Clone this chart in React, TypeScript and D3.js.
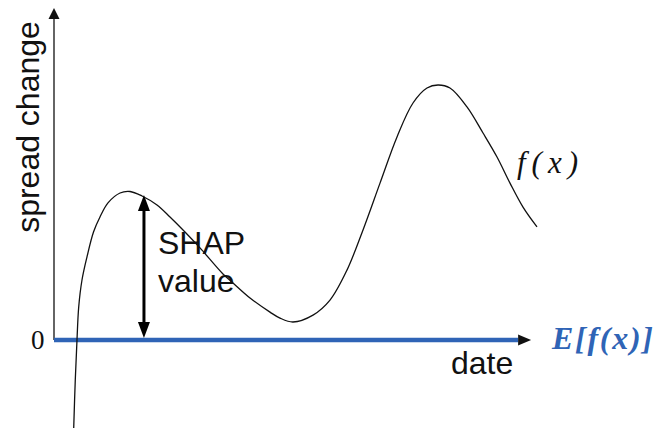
import React from 'react'
import * as d3 from 'd3'

// f(x): spread change over date
const dates = [4.14, 4.47, 4.83, 5.19, 5.88, 6.93, 8.3, 9.66, 11.34, 13.87, 15.97, 18.49, 21.64, 24.37, 27.52, 30.67, 35.5, 37.61, 41.18, 45.38, 47.48, 50.21, 54.41, 57.98, 61.55, 64.92, 68.49, 72.06, 75.42, 78.36, 80.67, 83.19, 86.76, 90.13, 93.07, 95.8, 98.53, 101.47]
const spread = [-29.3, -13.3, 0, 11, 20, 27.7, 36, 41, 45.7, 49, 49.5, 48, 45, 41, 36, 30.7, 22, 19, 14, 9.3, 7.3, 6, 8.3, 13.3, 23.3, 36.7, 52.3, 67.7, 79, 84, 85, 84, 77.7, 69, 61, 52.3, 44.3, 37.7]

// the SHAP value is shown at this date, from E[f(x)] up to f(x)
const shapDate = 18.9
const shapValue = 48.3

const yLabel = 'spread change'
const xLabel = 'date'
const zeroLabel = '0'
const curveLabel = 'f(x)'
const baseLabel = 'E[f(x)]'
const shapLabel = ['SHAP', 'value']

const width = 670
const height = 431
const blue = '#2f64b6'

const App = () => {
  const x = d3.scaleLinear().domain([0, 100]).range([54, 530])
  const y = d3.scaleLinear().domain([0, 100]).range([340, 40])

  const points = dates.map((d, i) => [d, spread[i]])
  const line = d3.line()
    .x(d => x(d[0]))
    .y(d => y(d[1]))
    .curve(d3.curveCatmullRom.alpha(0.5))

  const x0 = x(0)
  const y0 = y(0)
  const yTop = y(110)
  const xEnd = x(97.5)
  const sx = x(shapDate)
  const sTop = y(shapValue)

  return (
    <svg
      width={width}
      height={height}
      viewBox={`0 0 ${width} ${height}`}
      style={{ position: 'absolute', left: 0, top: 0, background: '#fff' }}
    >
      {/* y axis */}
      <line x1={x0} x2={x0} y1={y0} y2={yTop + 8} stroke='#111' strokeWidth='1.3' />
      <path d={`M${x0},${yTop - 2}l-5.5,11h11z`} fill='#111' />

      {/* E[f(x)] baseline, doubles as x axis */}
      <line x1={x0} x2={xEnd} y1={y0} y2={y0} stroke={blue} strokeWidth='4.5' />
      <path d={`M${xEnd + 13},${y0}l-13,-5.5v11z`} fill='#111' />

      {/* f(x) */}
      <path d={line(points)} fill='none' stroke='#111' strokeWidth='1.3' />

      {/* SHAP value arrow */}
      <line x1={sx} x2={sx} y1={sTop + 14} y2={y0 - 16} stroke='#000' strokeWidth='3' />
      <path d={`M${sx},${sTop}l-6,16h12z`} fill='#000' />
      <path d={`M${sx},${y0 - 2}l-6,-16h12z`} fill='#000' />

      <g fontFamily='"Liberation Sans", Arial, sans-serif' fontSize='32' fill='#111'>
        <text transform='translate(39,127) rotate(-90)' textAnchor='middle'>{yLabel}</text>
        <text x={451} y={374}>{xLabel}</text>
        <text x={158} y={254}>{shapLabel[0]}</text>
        <text x={158} y={292}>{shapLabel[1]}</text>
      </g>

      <text x={31} y={349} fontFamily='"Liberation Serif", serif' fontSize='27' fill='#111'>{zeroLabel}</text>
      <text x={517} y={173} fontFamily='"Liberation Serif", serif' fontStyle='italic' fontSize='31' fill='#111' textLength='61' lengthAdjust='spacing'>{curveLabel}</text>
      <text x={552} y={349} fontFamily='"Liberation Serif", serif' fontStyle='italic' fontWeight='bold' fontSize='32' fill={blue} textLength='101' lengthAdjust='spacing'>{baseLabel}</text>
    </svg>
  )
}

export default App
